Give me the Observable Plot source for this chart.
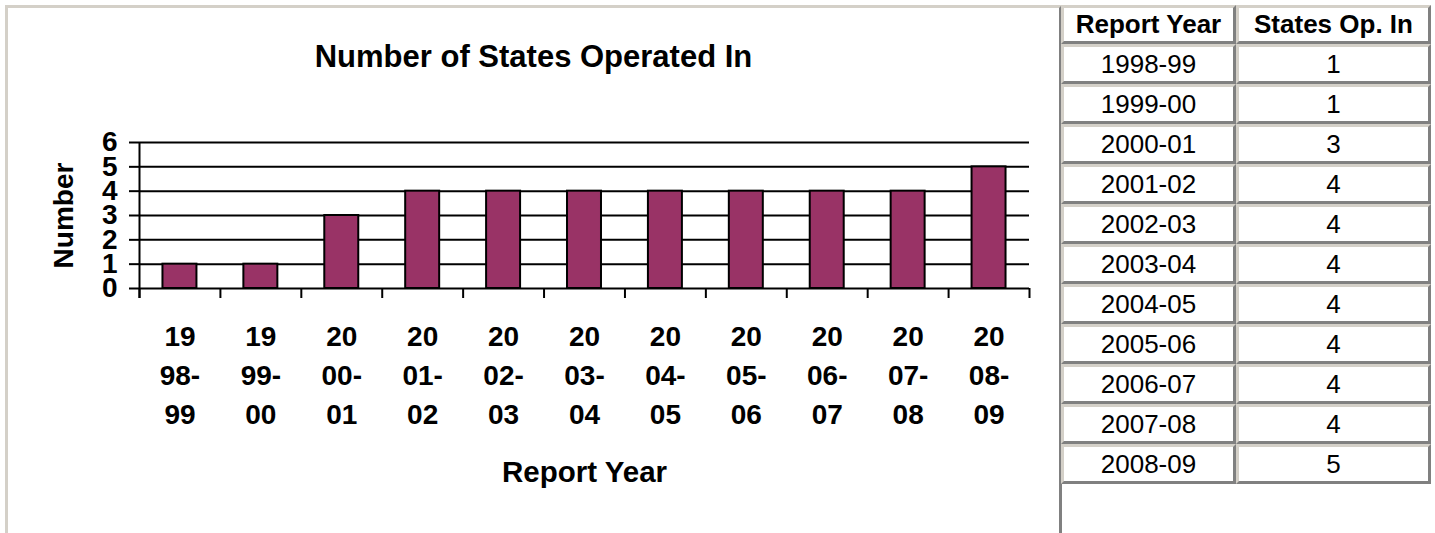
<!DOCTYPE html>
<html>
<head>
<meta charset="utf-8">
<script src="https://cdn.jsdelivr.net/npm/d3@7"></script>
<script src="https://cdn.jsdelivr.net/npm/@observablehq/plot@0.6"></script>
<style>
  html, body { margin: 0; padding: 0; background: #fff; }
  body { font-family: Arial, "Liberation Sans", sans-serif; color: #000; }
  #box {
    position: absolute; left: 5px; top: 5px;
    width: 1051px; height: 525px;
    border-style: solid; border-width: 3px;
    border-color: #d4d0c8 #808080 #808080 #d4d0c8;
    overflow: hidden; background: #fff;
  }
  #title {
    height: 92px; box-sizing: border-box; padding-top: 31px;
    line-height: 36px; font-size: 31px; font-weight: bold; text-align: center;
  }
  #chart svg { display: block; }
  #tbl {
    position: absolute; left: 1061px; top: 5px;
    border-collapse: separate; border-spacing: 0;
    font-family: Arial, "Liberation Sans", sans-serif; font-size: 26px;
  }
  #tbl td, #tbl th {
    border-style: solid; border-width: 3px;
    border-color: #d4d0c8 #808080 #808080 #d4d0c8;
    padding: 0; height: 34px; text-align: center; vertical-align: middle;
    background: #fff;
  }
  #tbl th { font-weight: bold; height: 33px; }
  #tbl .c1 { width: 169px; }
  #tbl .c2 { width: 189px; }
</style>
</head>
<body>
<div id="box">
  <div id="title"></div>
  <div id="chart"></div>
</div>
<table id="tbl"></table>
<script>
// ---- data ----
const years = ["1998-99","1999-00","2000-01","2001-02","2002-03","2003-04","2004-05","2005-06","2006-07","2007-08","2008-09"];
const states = [1, 1, 3, 4, 4, 4, 4, 4, 4, 4, 5];
const yTicks = [0, 1, 2, 3, 4, 5, 6];
const titleText = "Number of States Operated In";
const xLabel = "Report Year";
const yLabel = "Number";
const tableHeaders = ["Report Year", "States Op. In"];

// ---- chart ----
document.getElementById("title").textContent = titleText;
const data = years.map((year, i) => ({year, value: states[i]}));

const W = 1051, H = 430, mL = 131, mR = 30, mT = 42, mB = 242;
const step = (W - mL - mR) / years.length;
const unit = (H - mT - mB) / (yTicks[yTicks.length - 1] - yTicks[0]);
const tickDown = -10 / unit;
const lw = 2;

const chart = Plot.plot({
  width: W, height: H,
  marginLeft: mL, marginRight: mR, marginTop: mT, marginBottom: mB,
  style: {fontFamily: "Arial, 'Liberation Sans', sans-serif", fontSize: "28px", fontWeight: "bold", color: "#000", background: "transparent", overflow: "visible"},
  x: {domain: years, paddingInner: 0.58, paddingOuter: 0.29, round: false},
  y: {domain: [yTicks[0], yTicks[yTicks.length - 1]]},
  marks: [
    Plot.gridY(yTicks, {stroke: "#000", strokeOpacity: 1, strokeWidth: lw}),
    Plot.axisY(yTicks, {tickSize: 10, tickPadding: 12, strokeWidth: lw, label: yLabel, labelAnchor: "center", labelArrow: "none", labelOffset: 86}),
    Plot.ruleX([years[0]], {x: d => d, dx: -step / 2, y1: tickDown, y2: yTicks[yTicks.length - 1], stroke: "#000", strokeWidth: lw}),
    Plot.ruleX(years, {x: d => d, dx: -step / 2, y1: 0, y2: tickDown, stroke: "#000", strokeWidth: lw}),
    Plot.ruleX([years[years.length - 1]], {x: d => d, dx: step / 2, y1: 0, y2: tickDown, stroke: "#000", strokeWidth: lw}),
    Plot.barY(data, {x: "year", y: "value", fill: "#993366", stroke: "#000", strokeWidth: lw}),
    Plot.axisX({tickSize: 0, tickPadding: 30, lineHeight: 1.39,
      tickFormat: d => d.slice(0, 2) + "\n" + d.slice(2, 5) + "\n" + d.slice(5),
      label: null}),
    Plot.text([xLabel], {text: d => d, frameAnchor: "bottom", dy: 184, lineAnchor: "middle", fontSize: 29.5, fontWeight: "bold"})
  ]
});
document.getElementById("chart").appendChild(chart);

// ---- table ----
const tbl = document.getElementById("tbl");
const hr = document.createElement("tr");
tableHeaders.forEach((h, i) => {
  const th = document.createElement("th");
  th.className = i === 0 ? "c1" : "c2";
  th.textContent = h;
  hr.appendChild(th);
});
tbl.appendChild(hr);
years.forEach((y, i) => {
  const tr = document.createElement("tr");
  [y, String(states[i])].forEach((v, j) => {
    const td = document.createElement("td");
    td.className = j === 0 ? "c1" : "c2";
    td.textContent = v;
    tr.appendChild(td);
  });
  tbl.appendChild(tr);
});
</script>
</body>
</html>
